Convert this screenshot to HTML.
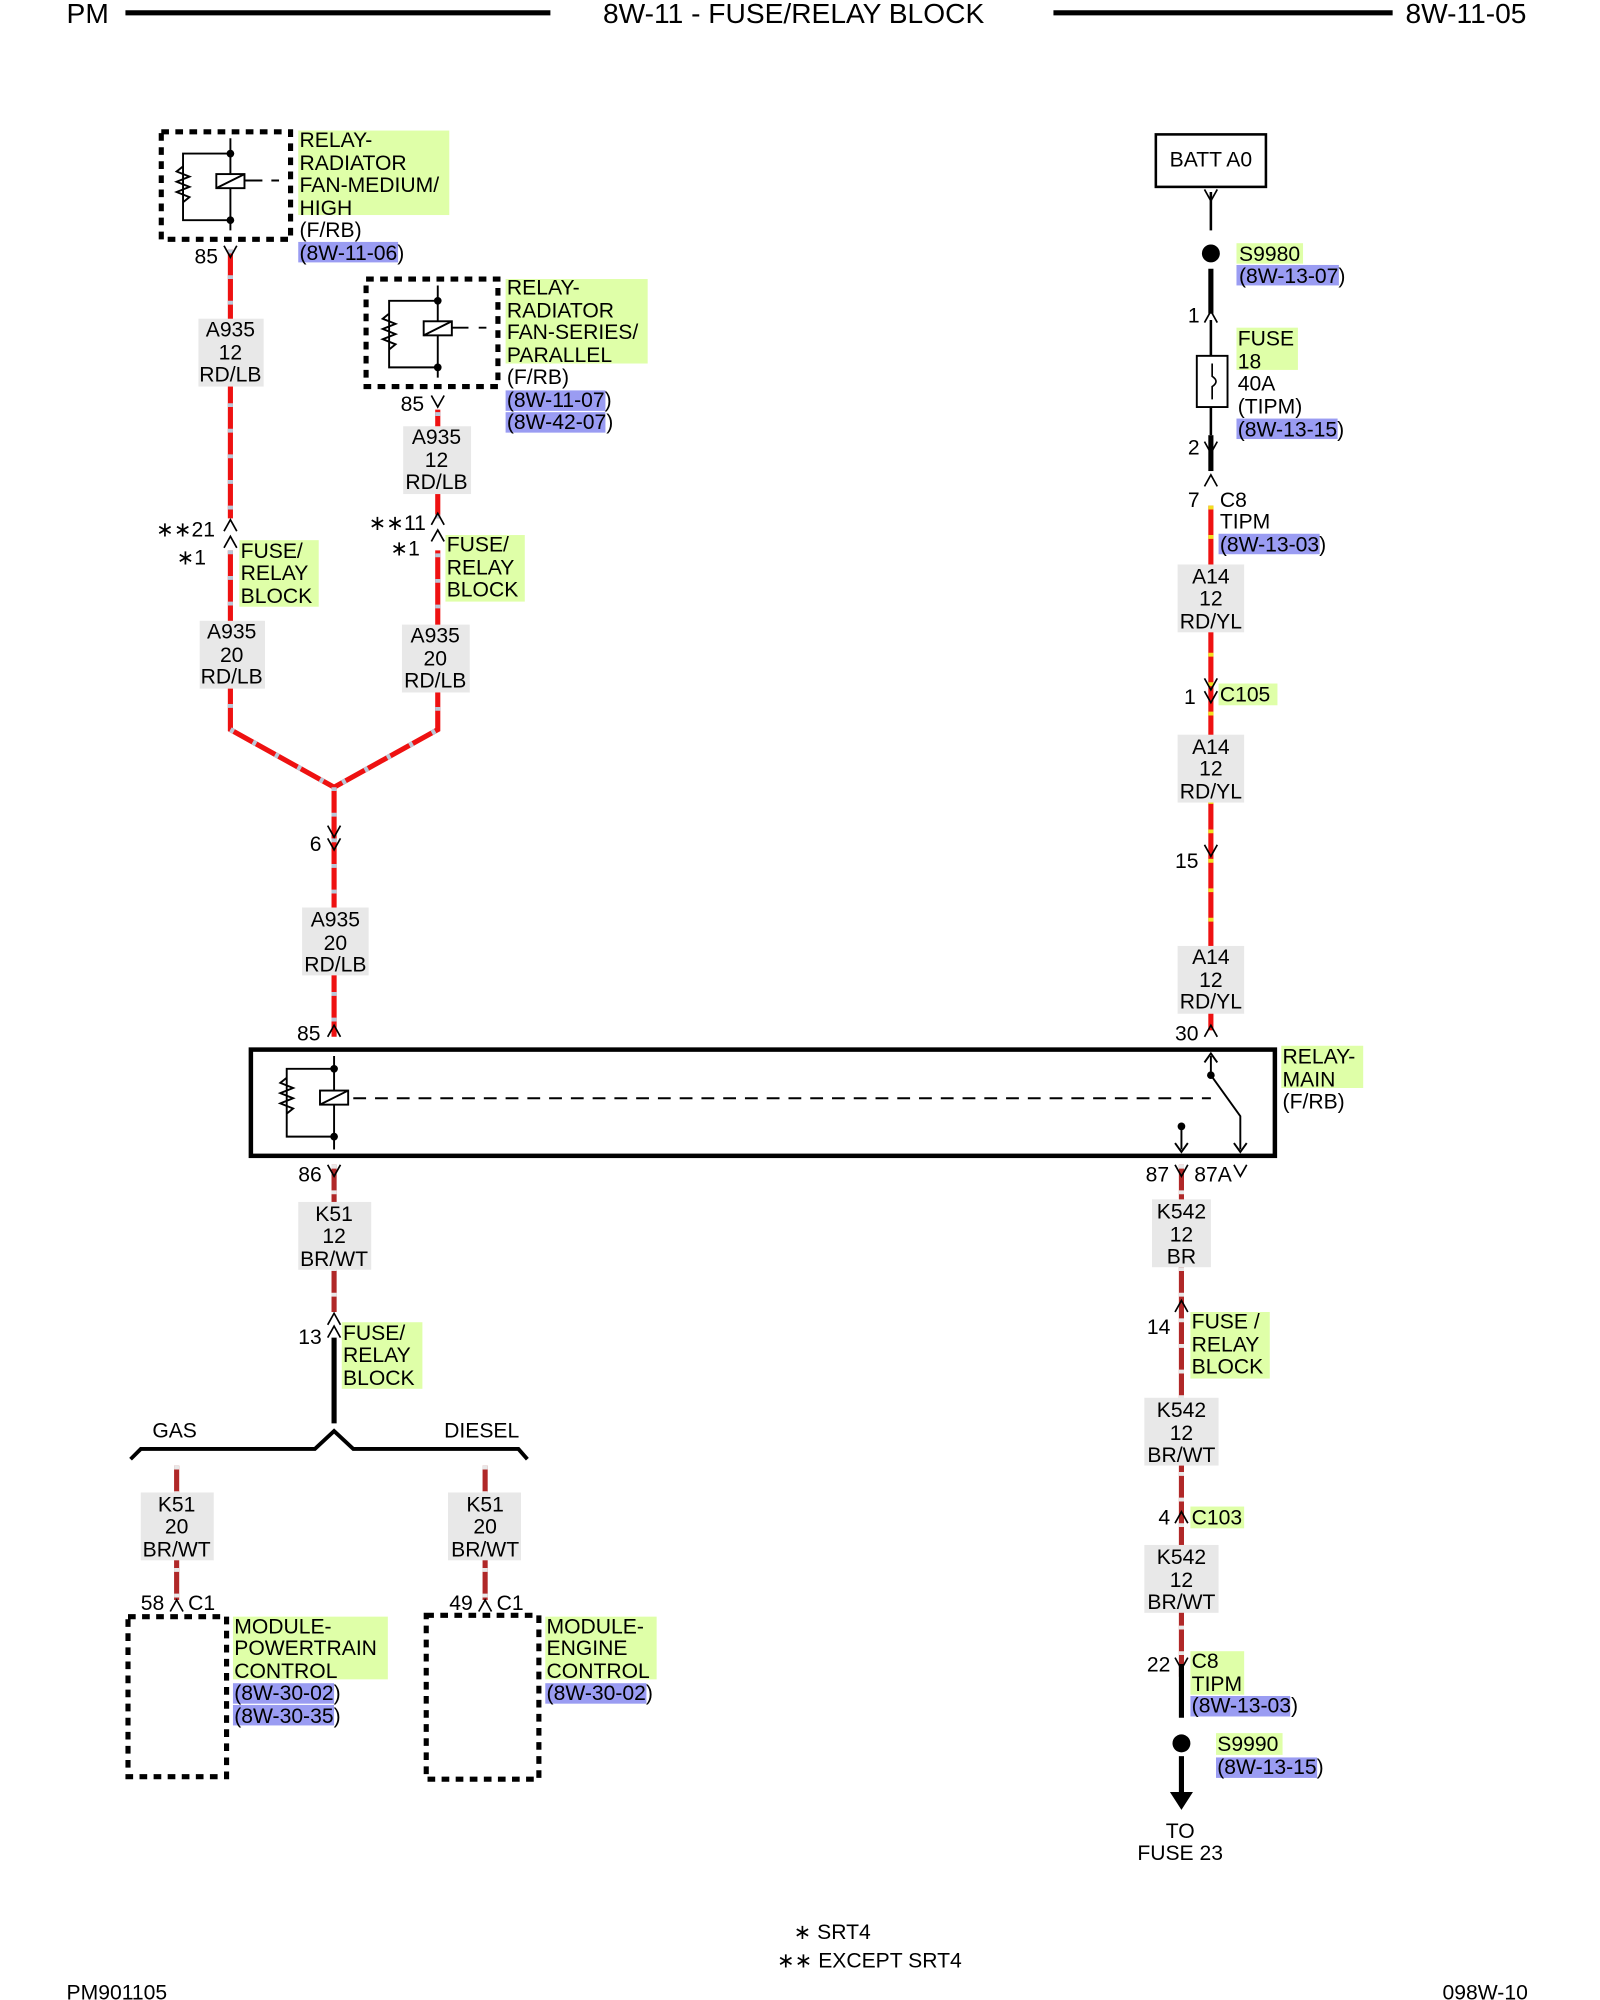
<!DOCTYPE html>
<html><head><meta charset="utf-8"><style>
html,body{margin:0;padding:0;background:#fff;}
svg{display:block;}
text{font-family:"Liberation Sans",sans-serif;font-size:16.5px;fill:#000;}
.g{fill:#dfffa8;}
.b{fill:#9a9cf2;}
.w{fill:#e8e8e8;}
.gt{fill:#3d7a00;}
</style></head><body>
<svg width="1600" height="2000" viewBox="0 0 1250 1562.5" preserveAspectRatio="none" xmlns="http://www.w3.org/2000/svg">
<!-- header -->
<text x="52" y="18" style="font-size:22px">PM</text>
<line x1="98" y1="10" x2="430" y2="10" stroke="#000" stroke-width="4"/>
<text x="620" y="18" text-anchor="middle" style="font-size:22px">8W-11 - FUSE/RELAY BLOCK</text>
<line x1="823" y1="10" x2="1088" y2="10" stroke="#000" stroke-width="4"/>
<text x="1098" y="18" style="font-size:22px">8W-11-05</text>

<!-- red/lb wires left -->
<g stroke-width="4" fill="none">
<path d="M180 195 V405 M180 430 V570 L261 615 L342 570 V430 M342 405 V320 M261 615 V810" stroke="#ee1111"/>
<path d="M180 195 V405 M180 430 V570 L261 615 L342 570 V430 M342 405 V320 M261 615 V810" stroke="#b8c8d8" stroke-dasharray="3 17"/>
<!-- right red/yl -->
<path d="M946 395 V805" stroke="#ee1111"/>
<path d="M946 395 V805" stroke="#f0e020" stroke-dasharray="3 20"/>
<!-- brown wires -->
<path d="M923 910 V1310 M261 910 V1025 M138 1145 V1250 M379 1145 V1250" stroke="#b02828"/>
<path d="M923 910 V1310 M261 910 V1025 M138 1145 V1250 M379 1145 V1250" stroke="#e8e8e8" stroke-dasharray="3 17"/>
</g>
<!-- black wires -->
<g stroke="#000" fill="none">
<line x1="946" y1="150" x2="946" y2="180" stroke-width="2"/>
<line x1="946" y1="210" x2="946" y2="245" stroke-width="4"/>
<line x1="946" y1="250" x2="946" y2="278" stroke-width="2"/>
<line x1="946" y1="318" x2="946" y2="340" stroke-width="2"/>
<line x1="946" y1="340" x2="946" y2="368" stroke-width="4"/>
<line x1="923" y1="1300" x2="923" y2="1342" stroke-width="4"/>
<line x1="923" y1="1372" x2="923" y2="1400" stroke-width="4"/>
<line x1="261" y1="1045" x2="261" y2="1112" stroke-width="4"/>
<path d="M102 1140 L110 1132 H246 L261 1118 L276 1132 H405 L412 1140" stroke-width="3"/>
</g>
<circle cx="946" cy="198" r="7"/>
<circle cx="923" cy="1362" r="7"/>
<path d="M914 1400 L932 1400 L923 1414 Z"/>
<text x="922" y="1436" text-anchor="middle">TO</text>
<text x="922" y="1453" text-anchor="middle">FUSE 23</text>

<!-- connector chevrons -->
<g stroke="#000" stroke-width="1.3" fill="none">
<path d="M175 192 L180 201 L185 192 M175 415 L180 406 L185 415 M175 428 L180 419 L185 428"/>
<path d="M337 309 L342 318 L347 309 M337 410 L342 401 L347 410 M337 423 L342 414 L347 423"/>
<path d="M256 645 L261 654 L266 645 M256 655 L261 664 L266 655 M256 810 L261 801 L266 810"/>
<path d="M941 148 L946 157 L951 148 M941 252 L946 243 L951 252 M941 345 L946 354 L951 345"/>
<path d="M941 380 L946 371 L951 380 M941 530 L946 539 L951 530 M941 540 L946 549 L951 540"/>
<path d="M941 660 L946 669 L951 660 M941 810 L946 801 L951 810"/>
<path d="M256 910 L261 919 L266 910 M918 910 L923 919 L928 910 M964 910 L969 919 L974 910"/>
<path d="M918 1025 L923 1016 L928 1025 M918 1190 L923 1181 L928 1190 M918 1295 L923 1304 L928 1295"/>
<path d="M256 1035 L261 1026 L266 1035 M256 1045 L261 1036 L266 1045"/>
<path d="M133 1259 L138 1250 L143 1259 M374 1259 L379 1250 L384 1259"/>
</g>

<!-- BATT box -->
<rect x="903" y="105" width="86" height="41" fill="#fff" stroke="#000" stroke-width="2"/>
<text x="946" y="130" text-anchor="middle">BATT A0</text>
<!-- fuse -->
<rect x="935" y="278" width="24" height="40" fill="#fff" stroke="#000" stroke-width="1.5"/>
<path d="M947 284 V294 Q953 298 947 302 V312" stroke="#000" fill="none" stroke-width="1.3"/>

<!-- dotted relay boxes -->
<g fill="none" stroke="#000" stroke-width="4" stroke-dasharray="6 5">
<rect x="126" y="103" width="101" height="84"/>
<rect x="286" y="218" width="103" height="84"/>
<rect x="100" y="1263" width="77" height="125"/>
<rect x="333" y="1262" width="88" height="128"/>
</g>
<!-- relay internals -->
<g stroke="#000" fill="none" stroke-width="1.5">
<path d="M180 108 V180 M180 120 H143 V172 H180 M143 130 l-5 4 l10 4 l-10 4 l10 4 l-10 4 l10 4 l-5 4"/>
<rect x="169" y="136" width="22" height="11" fill="#fff"/><path d="M169 147 L191 136 M191 141 H205 M212 141 H218"/>
<path d="M342 223 V295 M342 235 H304 V287 H342 M304 245 l-5 4 l10 4 l-10 4 l10 4 l-10 4 l10 4 l-5 4"/>
<rect x="331" y="251" width="22" height="11" fill="#fff"/><path d="M331 262 L353 251 M353 256 H366 M374 256 H380"/>
</g>
<circle cx="180" cy="120" r="3"/><circle cx="180" cy="172" r="3"/>
<circle cx="342" cy="235" r="3"/><circle cx="342" cy="287" r="3"/>

<!-- main relay -->
<rect x="196" y="820" width="800" height="83" fill="none" stroke="#000" stroke-width="3.5"/>
<g stroke="#000" fill="none" stroke-width="1.5">
<path d="M261 825 V898 M261 835 H224 V888 H261 M224 842 l-5 4 l10 4 l-10 4 l10 4 l-10 4 l10 4 l-5 4"/>
<rect x="250" y="852" width="22" height="11" fill="#fff"/><path d="M250 863 L272 852"/>
<path d="M276 858 H946" stroke-dasharray="10 7"/>
<path d="M946 825 V840 L969 872 V898 M923 880 V898"/>
<path d="M941 830 L946 823 L951 830 M918 893 L923 900 L928 893 M964 893 L969 900 L974 893"/>
</g>
<circle cx="261" cy="835" r="3"/><circle cx="261" cy="888" r="3"/><circle cx="946" cy="840" r="3"/><circle cx="923" cy="880" r="3"/>

<!-- green highlights -->
<rect class="g" x="233" y="102" width="118" height="66"/>
<rect class="g" x="395" y="218" width="111" height="66"/>
<rect class="g" x="187" y="422" width="62" height="52"/>
<rect class="g" x="348" y="418" width="62" height="52"/>
<rect class="g" x="966" y="190" width="52" height="16"/>
<rect class="g" x="966" y="256" width="48" height="33"/>
<rect class="g" x="952" y="534" width="46" height="17"/>
<rect class="g" x="1001" y="817" width="64" height="33"/>
<rect class="g" x="267" y="1033" width="63" height="52"/>
<rect class="g" x="930" y="1025" width="62" height="52"/>
<rect class="g" x="930" y="1177" width="42" height="17"/>
<rect class="g" x="930" y="1290" width="42" height="34"/>
<rect class="g" x="950" y="1354" width="52" height="17"/>
<rect class="g" x="182" y="1263" width="121" height="49"/>
<rect class="g" x="426" y="1263" width="87" height="49"/>
<!-- blue highlights -->
<rect class="b" x="233" y="189" width="78" height="16"/>
<rect class="b" x="395" y="305" width="78" height="16"/>
<rect class="b" x="395" y="322" width="78" height="16"/>
<rect class="b" x="966" y="207" width="80" height="16"/>
<rect class="b" x="966" y="327" width="79" height="16"/>
<rect class="b" x="952" y="417" width="79" height="16"/>
<rect class="b" x="930" y="1325" width="78" height="16"/>
<rect class="b" x="950" y="1373" width="79" height="16"/>
<rect class="b" x="182" y="1315" width="79" height="16"/>
<rect class="b" x="182" y="1332" width="79" height="16"/>
<rect class="b" x="426" y="1315" width="79" height="16"/>
<!-- wire label bgs -->
<g class="w">
<rect x="155" y="249" width="51" height="53"/>
<rect x="315" y="333" width="53" height="53"/>
<rect x="156" y="485" width="51" height="53"/>
<rect x="314" y="488" width="53" height="53"/>
<rect x="236" y="709" width="52" height="53"/>
<rect x="920" y="441" width="52" height="53"/>
<rect x="920" y="574" width="52" height="53"/>
<rect x="920" y="739" width="52" height="53"/>
<rect x="233" y="939" width="57" height="53"/>
<rect x="900" y="937" width="46" height="53"/>
<rect x="894" y="1092" width="58" height="53"/>
<rect x="894" y="1207" width="58" height="53"/>
<rect x="110" y="1166" width="57" height="53"/>
<rect x="350" y="1166" width="57" height="53"/>
</g>
<!-- text -->
<g>
<text x="234" y="115">RELAY-</text><text x="234" y="133">RADIATOR</text><text x="234" y="150">FAN-MEDIUM/</text><text x="234" y="168">HIGH</text><text x="234" y="185">(F/RB)</text><text x="234" y="203">(8W-11-06)</text>
<text x="396" y="230">RELAY-</text><text x="396" y="248">RADIATOR</text><text x="396" y="265">FAN-SERIES/</text><text x="396" y="283">PARALLEL</text><text x="396" y="300">(F/RB)</text><text x="396" y="318">(8W-11-07)</text><text x="396" y="335">(8W-42-07)</text>
<text x="152" y="206">85</text><text x="313" y="321">85</text>
<g text-anchor="middle">
<text x="180" y="263">A935</text><text x="180" y="281">12</text><text x="180" y="298">RD/LB</text>
<text x="341" y="347">A935</text><text x="341" y="365">12</text><text x="341" y="382">RD/LB</text>
<text x="181" y="499">A935</text><text x="181" y="517">20</text><text x="181" y="534">RD/LB</text>
<text x="340" y="502">A935</text><text x="340" y="520">20</text><text x="340" y="537">RD/LB</text>
<text x="262" y="724">A935</text><text x="262" y="742">20</text><text x="262" y="759">RD/LB</text>
<text x="946" y="456">A14</text><text x="946" y="473">12</text><text x="946" y="491">RD/YL</text>
<text x="946" y="589">A14</text><text x="946" y="606">12</text><text x="946" y="624">RD/YL</text>
<text x="946" y="753">A14</text><text x="946" y="771">12</text><text x="946" y="788">RD/YL</text>
<text x="261" y="954">K51</text><text x="261" y="971">12</text><text x="261" y="989">BR/WT</text>
<text x="923" y="952">K542</text><text x="923" y="970">12</text><text x="923" y="987">BR</text>
<text x="923" y="1107">K542</text><text x="923" y="1125">12</text><text x="923" y="1142">BR/WT</text>
<text x="923" y="1222">K542</text><text x="923" y="1240">12</text><text x="923" y="1257">BR/WT</text>
<text x="138" y="1181">K51</text><text x="138" y="1198">20</text><text x="138" y="1216">BR/WT</text>
<text x="379" y="1181">K51</text><text x="379" y="1198">20</text><text x="379" y="1216">BR/WT</text>
</g>
<text x="122" y="419">∗∗21</text><text x="138" y="441">∗1</text>
<text x="188" y="436">FUSE/</text><text x="188" y="453">RELAY</text><text x="188" y="471">BLOCK</text>
<text x="288" y="414">∗∗11</text><text x="305" y="434">∗1</text>
<text x="349" y="431">FUSE/</text><text x="349" y="449">RELAY</text><text x="349" y="466">BLOCK</text>
<text x="242" y="665">6</text>
<text x="232" y="813">85</text><text x="233" y="923">86</text>
<text x="968" y="204">S9980</text><text x="968" y="221">(8W-13-07)</text>
<text x="928" y="252">1</text>
<text x="967" y="270">FUSE</text><text x="967" y="288">18</text><text x="967" y="305">40A</text><text x="967" y="323">(TIPM)</text><text x="967" y="341">(8W-13-15)</text>
<text x="928" y="355">2</text>
<text x="928" y="396">7</text><text x="953" y="396">C8</text><text x="953" y="413">TIPM</text><text x="953" y="431">(8W-13-03)</text>
<text x="925" y="550">1</text><text x="953" y="548">C105</text>
<text x="918" y="678">15</text>
<text x="918" y="813">30</text>
<text x="1002" y="831">RELAY-</text><text x="1002" y="849">MAIN</text><text x="1002" y="866">(F/RB)</text>
<text x="895" y="923">87</text><text x="933" y="923">87A</text>
<text x="896" y="1042">14</text>
<text x="931" y="1038">FUSE /</text><text x="931" y="1056">RELAY</text><text x="931" y="1073">BLOCK</text>
<text x="905" y="1191">4</text><text x="931" y="1191">C103</text>
<text x="896" y="1306">22</text><text x="931" y="1303">C8</text><text x="931" y="1321">TIPM</text><text x="931" y="1338">(8W-13-03)</text>
<text x="951" y="1368">S9990</text><text x="951" y="1386">(8W-13-15)</text>
<text x="233" y="1050">13</text>
<text x="268" y="1047">FUSE/</text><text x="268" y="1064">RELAY</text><text x="268" y="1082">BLOCK</text>
<text x="119" y="1123">GAS</text><text x="347" y="1123">DIESEL</text>
<text x="110" y="1258">58</text><text x="147" y="1258">C1</text>
<text x="351" y="1258">49</text><text x="388" y="1258">C1</text>
<text x="183" y="1276">MODULE-</text><text x="183" y="1293">POWERTRAIN</text><text x="183" y="1311">CONTROL</text><text x="183" y="1328">(8W-30-02)</text><text x="183" y="1346">(8W-30-35)</text>
<text x="427" y="1276">MODULE-</text><text x="427" y="1293">ENGINE</text><text x="427" y="1311">CONTROL</text><text x="427" y="1328">(8W-30-02)</text>
<text x="620" y="1515">∗ SRT4</text><text x="607" y="1537">∗∗ EXCEPT SRT4</text>
<text x="52" y="1562">PM901105</text><text x="1127" y="1562">098W-10</text>
</g>
</svg>
</body></html>
